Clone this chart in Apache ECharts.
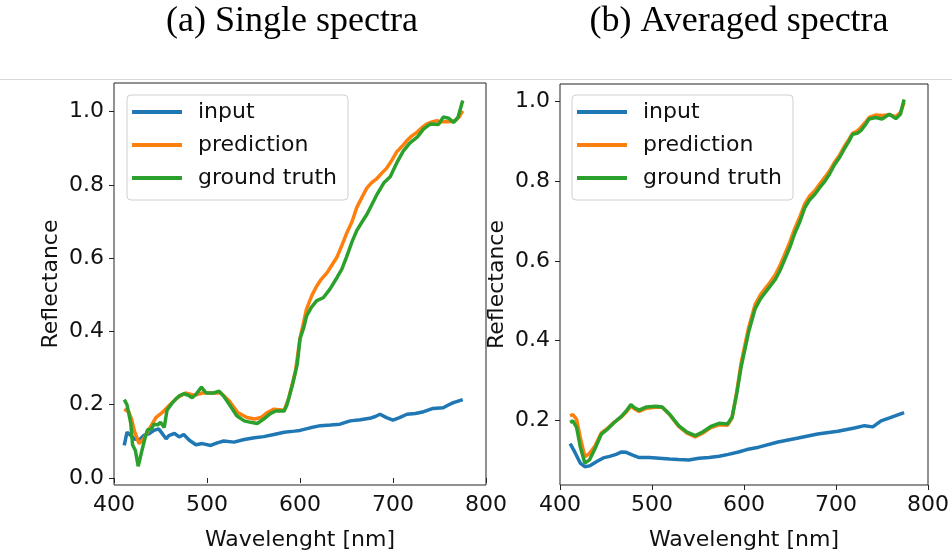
<!DOCTYPE html>
<html>
<head>
<meta charset="utf-8">
<script src="https://cdn.jsdelivr.net/npm/echarts@6/dist/echarts.min.js"></script>
<style>
html,body{margin:0;padding:0;background:#fff;}
#main{width:952px;height:556px;}
</style>
</head>
<body>
<div id="main"></div>
<script>
// ---------- data ----------
const seriesNames = ['input', 'prediction', 'ground truth'];
const panelTitles = ['(a) Single spectra', '(b) Averaged spectra'];
const xTicks = [400, 500, 600, 700, 800];
const yTicksLeft = [0.0, 0.2, 0.4, 0.6, 0.8, 1.0];
const yTicksRight = [0.2, 0.4, 0.6, 0.8, 1.0];

// (a) single spectra
const leftInputWl = [411,414,418,422,427,432,438,443,448,452,456,459,465,470,475,481,488,495,504,511,518,529,540,551,561,572,583,594,600,611,622,633,643,654,665,675,681,686,693,700,707,715,724,733,743,754,760,765,775];
const leftInput   = [0.089,0.125,0.116,0.107,0.103,0.116,0.121,0.130,0.134,0.121,0.107,0.116,0.122,0.112,0.119,0.103,0.091,0.094,0.089,0.096,0.101,0.098,0.105,0.110,0.113,0.119,0.125,0.128,0.130,0.137,0.143,0.145,0.147,0.156,0.159,0.163,0.168,0.174,0.165,0.158,0.165,0.174,0.176,0.181,0.190,0.192,0.200,0.206,0.214];

const leftPredWl = [411,416,419,422,427,432,438,445,452,459,468,477,486,495,508,515,524,533,543,551,558,565,572,583,588,595,600,607,613,618,623,629,634,640,645,650,656,661,667,672,677,683,688,693,699,704,710,715,720,726,731,736,742,747,752,758,762,767,771,775];
const leftPred   = [0.188,0.180,0.160,0.128,0.094,0.107,0.134,0.165,0.179,0.197,0.219,0.232,0.226,0.232,0.232,0.232,0.210,0.179,0.165,0.161,0.165,0.179,0.188,0.185,0.219,0.290,0.381,0.461,0.500,0.524,0.543,0.560,0.580,0.604,0.635,0.667,0.700,0.738,0.768,0.792,0.806,0.818,0.832,0.845,0.868,0.890,0.906,0.921,0.933,0.944,0.956,0.966,0.972,0.975,0.972,0.972,0.973,0.975,0.985,1.002];

const leftTruthWl = [411,414,416,418,420,423,426,430,434,436,440,443,447,450,454,457,463,466,470,475,480,484,488,494,499,507,513,518,525,532,540,547,554,561,568,574,583,586,592,597,600,604,607,612,618,625,632,640,645,650,656,661,667,672,678,683,690,697,704,711,718,726,733,740,749,754,760,765,770,775];
const leftTruth   = [0.214,0.200,0.195,0.150,0.090,0.075,0.032,0.075,0.115,0.132,0.133,0.147,0.145,0.152,0.138,0.185,0.206,0.214,0.224,0.230,0.226,0.219,0.228,0.248,0.232,0.232,0.237,0.223,0.197,0.170,0.156,0.152,0.149,0.161,0.176,0.183,0.183,0.200,0.255,0.310,0.380,0.410,0.442,0.465,0.484,0.492,0.515,0.548,0.570,0.603,0.645,0.675,0.700,0.720,0.750,0.775,0.805,0.822,0.860,0.892,0.914,0.930,0.953,0.966,0.965,0.985,0.982,0.970,0.985,1.030];

// (b) averaged spectra
const rightInputWl = [411,416,422,427,432,440,447,454,461,467,472,479,486,497,508,519,529,540,551,562,573,583,594,603,616,637,659,680,702,720,731,740,749,759,774];
const rightInput   = [0.141,0.120,0.092,0.083,0.085,0.096,0.105,0.109,0.114,0.120,0.119,0.112,0.106,0.106,0.104,0.102,0.101,0.100,0.104,0.106,0.109,0.114,0.120,0.126,0.132,0.145,0.155,0.165,0.172,0.180,0.186,0.183,0.198,0.206,0.219];

const rightWl = [411,414,418,422,427,432,438,445,452,459,467,472,477,481,486,494,504,511,519,529,538,547,555,564,573,582,587,592,597,605,612,618,623,628,634,639,644,650,655,661,666,671,677,682,688,693,698,704,709,714,718,723,727,732,736,743,750,758,765,770,774];
const rightPred  = [0.210,0.214,0.202,0.157,0.108,0.116,0.135,0.168,0.180,0.195,0.208,0.220,0.235,0.228,0.222,0.230,0.232,0.232,0.214,0.184,0.167,0.158,0.167,0.181,0.188,0.187,0.205,0.270,0.345,0.432,0.490,0.515,0.530,0.545,0.565,0.588,0.615,0.648,0.680,0.712,0.743,0.762,0.776,0.792,0.810,0.826,0.846,0.866,0.887,0.905,0.920,0.926,0.935,0.948,0.960,0.966,0.965,0.967,0.962,0.972,0.998];
const rightTruth = [0.194,0.198,0.182,0.133,0.092,0.100,0.128,0.165,0.178,0.194,0.210,0.223,0.239,0.231,0.225,0.233,0.235,0.233,0.215,0.186,0.170,0.161,0.170,0.184,0.192,0.190,0.207,0.265,0.335,0.421,0.479,0.505,0.520,0.535,0.553,0.575,0.602,0.635,0.668,0.700,0.733,0.752,0.767,0.783,0.800,0.818,0.840,0.860,0.881,0.900,0.918,0.920,0.927,0.942,0.956,0.960,0.956,0.968,0.957,0.968,1.005];

// ---------- build ----------
const colors = ['#1f77b4', '#ff7f0e', '#2ca02c'];
const pair = (xs, ys) => xs.map((x, i) => [x, ys[i]]);
const FONT = 'DejaVu Sans';
const TXT = '#111';

const chart = echarts.init(document.getElementById('main'), null, {renderer: 'canvas'});

function xAxisCfg(gi) {
  return {
    type: 'value', gridIndex: gi, min: 400, max: 800, interval: 100,
    name: 'Wavelenght [nm]', nameLocation: 'middle', nameGap: 44,
    nameTextStyle: {fontFamily: FONT, fontSize: 22, color: TXT},
    axisLine: {show: false},
    axisTick: {show: true, inside: false, length: 5, lineStyle: {color: '#222', width: 1}, customValues: xTicks},
    axisLabel: {fontFamily: FONT, fontSize: 22, color: TXT, margin: 9, customValues: xTicks},
    splitLine: {show: false}
  };
}
function yAxisCfg(gi, min, max, ticks) {
  return {
    type: 'value', gridIndex: gi, min: min, max: max,
    name: 'Reflectance', nameLocation: 'middle', nameGap: 52, nameRotate: 90,
    nameTextStyle: {fontFamily: FONT, fontSize: 22, color: TXT},
    axisLine: {show: false},
    axisTick: {show: true, inside: false, length: 5, lineStyle: {color: '#222', width: 1}, customValues: ticks},
    axisLabel: {fontFamily: FONT, fontSize: 22, color: TXT, margin: 10, customValues: ticks,
      formatter: v => Number(v).toFixed(1)},
    splitLine: {show: false}
  };
}
function lineSeries(name, data, idx, gi) {
  return {
    type: 'line', name: name, xAxisIndex: gi, yAxisIndex: gi, data: data,
    showSymbol: false, symbol: 'none', smooth: false,
    lineStyle: {color: colors[idx], width: 3.5},
    itemStyle: {color: colors[idx]},
    z: 2 + idx, animation: false
  };
}
function legendCfg(left) {
  return {
    orient: 'vertical', left: left, top: 95,
    data: seriesNames, icon: 'rect', itemWidth: 50, itemHeight: 4, itemGap: 7,
    padding: [4, 11, 9, 5],
    backgroundColor: 'rgba(255,255,255,0.85)', borderColor: '#d0d0d0', borderWidth: 1, borderRadius: 4,
    textStyle: {fontFamily: FONT, fontSize: 22, color: TXT, lineHeight: 26, padding: [0, 0, 0, 11]},
    selectedMode: false
  };
}

const option = {
  backgroundColor: '#fff',
  animation: false,
  graphic: [
    {type: 'text', x: 292, y: 22, style: {text: panelTitles[0], fontFamily: 'Liberation Serif', fontSize: 36, fill: '#000', textAlign: 'center', textVerticalAlign: 'middle'}},
    {type: 'text', x: 739, y: 22, style: {text: panelTitles[1], fontFamily: 'Liberation Serif', fontSize: 36, fill: '#000', textAlign: 'center', textVerticalAlign: 'middle'}},
    {type: 'line', shape: {x1: 0, y1: 79.5, x2: 952, y2: 79.5}, style: {stroke: '#d8d8d8', lineWidth: 1}}
  ],
  grid: [
    {left: 114, top: 83, width: 372, height: 409, show: true, borderColor: '#222', borderWidth: 1, backgroundColor: 'transparent', containLabel: false},
    {left: 560, top: 84, width: 371, height: 408, show: true, borderColor: '#222', borderWidth: 1, backgroundColor: 'transparent', containLabel: false}
  ],
  xAxis: [xAxisCfg(0), xAxisCfg(1)],
  yAxis: [yAxisCfg(0, -0.019, 1.078, yTicksLeft), yAxisCfg(1, 0.037, 1.044, yTicksRight)],
  legend: [legendCfg(127), legendCfg(572)],
  series: [
    lineSeries(seriesNames[0], pair(leftInputWl, leftInput), 0, 0),
    lineSeries(seriesNames[1], pair(leftPredWl, leftPred), 1, 0),
    lineSeries(seriesNames[2], pair(leftTruthWl, leftTruth), 2, 0),
    lineSeries(seriesNames[0], pair(rightInputWl, rightInput), 0, 1),
    lineSeries(seriesNames[1], pair(rightWl, rightPred), 1, 1),
    lineSeries(seriesNames[2], pair(rightWl, rightTruth), 2, 1)
  ]
};
chart.setOption(option);
</script>
</body>
</html>
